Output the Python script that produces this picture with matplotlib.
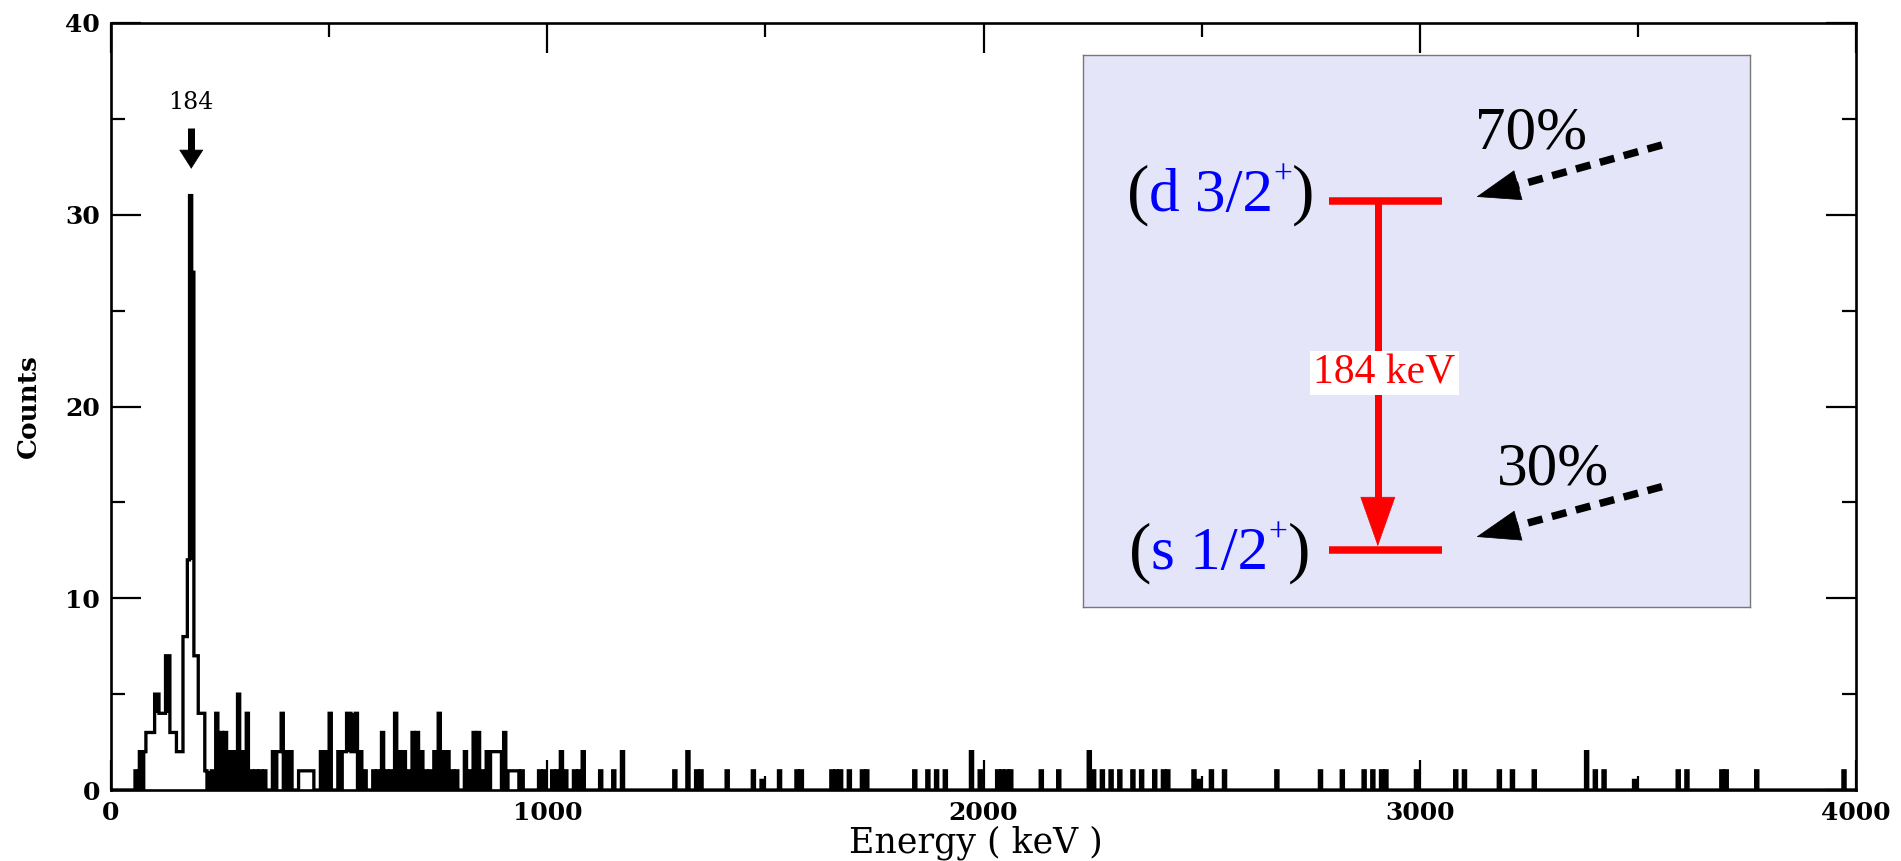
import numpy as np
import matplotlib
matplotlib.use("Agg")
import matplotlib.pyplot as plt
from matplotlib.patches import FancyArrowPatch
from matplotlib.ticker import MultipleLocator

# ---------------- spectrum data (5 keV channels) ----------------
BIN_WIDTH = 5
E_MAX = 4000

# lower channel edge (keV) and counts of the non-empty channels below 1.2 MeV
low_kev = [
    55, 65, 75, 80, 85, 90, 95, 100, 105, 110, 115, 120, 125, 130, 135, 140,
    145, 150, 155, 160, 165, 170, 175, 180, 185, 190, 195, 200, 205, 210, 215,
    230, 240, 250, 260, 270, 280, 290, 300, 310, 320, 330, 340, 350,
    370, 380, 385, 390, 400, 410,
    430, 435, 440, 445, 450, 455, 460,
    480, 490, 500,
    520, 530, 535, 540, 545, 550, 555, 560,
    570, 580,
    600, 610, 620, 630, 640, 650, 660, 670, 680, 690, 700, 710, 720, 730, 740,
    750, 760, 770, 780, 790,
    810, 820, 830, 840, 850, 860, 870, 875, 880, 885, 890, 900,
    910, 915, 920, 925, 930, 940,
    980, 990, 1010, 1020, 1030, 1040, 1060, 1070, 1080,
    1120, 1150, 1170,
]
low_counts = [
    1, 2, 2, 3, 3, 3, 3, 5, 5, 4, 4, 4, 7, 7, 3, 3,
    3, 2, 2, 2, 8, 8, 12, 31, 27, 7, 7, 4, 4, 4, 1,
    1, 4, 3, 3, 2, 2, 5, 2, 4, 1, 1, 1, 1,
    2, 2, 2, 4, 2, 2,
    1, 1, 1, 1, 1, 1, 1,
    2, 2, 4,
    2, 2, 2, 4, 4, 2, 2, 4,
    2, 1,
    1, 1, 3, 1, 1, 4, 2, 2, 1, 3, 3, 2, 1, 1, 2,
    4, 2, 2, 1, 1,
    2, 1, 3, 3, 1, 2, 2, 2, 2, 2, 2, 3,
    1, 1, 1, 1, 1, 1,
    1, 1, 1, 1, 2, 1, 1, 1, 2,
    1, 1, 2,
]

# the sparse part of the spectrum above 1.2 MeV
high_kev = [
    1290, 1320, 1340, 1350, 1410, 1470, 1490, 1530, 1570, 1580, 1650, 1660,
    1670, 1690, 1720, 1730, 1840, 1870, 1890, 1910, 1970, 1990, 2030, 2040,
    2050, 2060, 2130, 2170, 2240, 2250, 2270, 2290, 2310, 2340, 2360, 2390,
    2410, 2420, 2480, 2490, 2520, 2550, 2670, 2770, 2820, 2870, 2890, 2910,
    2920, 2990, 3080, 3100, 3180, 3210, 3260, 3380, 3400, 3420, 3490, 3590,
    3610, 3690, 3700, 3770, 3970,
]
high_counts = [
    1, 2, 1, 1, 1, 1, 0.5, 1, 1, 1, 1, 1,
    1, 1, 1, 1, 1, 1, 1, 1, 2, 1, 1, 1,
    1, 1, 1, 1, 2, 1, 1, 1, 1, 1, 1, 1,
    1, 1, 1, 0.5, 1, 1, 1, 1, 1, 1, 1, 1,
    1, 1, 1, 1, 1, 1, 1, 2, 1, 1, 0.5, 1,
    1, 1, 1, 1, 1,
]

peak_kev = 184
peak_text = "184"

x_ticks = [0, 1000, 2000, 3000, 4000]
y_ticks = [0, 10, 20, 30, 40]
x_label = "Energy ( keV )"
y_label = "Counts"

# ---------------- level scheme ----------------
upper_state = "d 3/2"
lower_state = "s 1/2"
parity = "+"
transition_text = "184 keV"
feeding_upper = "70%"
feeding_lower = "30%"

SERIF = "DejaVu Serif"
TIMES = "Liberation Serif"
PX = 0.72  # points per pixel at 100 dpi

fig = plt.figure(figsize=(19.01, 8.61), dpi=100)
fig.patch.set_facecolor("white")
ax = fig.add_axes([111 / 1901, 1 - 790 / 861, 1745 / 1901, 767 / 861])

edges = np.arange(0, E_MAX + BIN_WIDTH, BIN_WIDTH)
counts = np.zeros(len(edges) - 1)
for kev, cnt in ((low_kev, low_counts), (high_kev, high_counts)):
    counts[(np.array(kev) // BIN_WIDTH).astype(int)] = cnt

# columns at most two channels wide that stand above (or dip below) both
# neighbouring channels are closed in by their edges and print solid
padded = np.concatenate([[0.0], counts, [0.0]])
fill_x, fill_lo, fill_hi = [], [], []
for w in (1, 2):
    for i in range(len(counts) - w + 1):
        run = counts[i:i + w]
        outer_lo = min(padded[i], padded[i + w + 1])
        outer_hi = max(padded[i], padded[i + w + 1])
        for lo, hi in ((outer_hi, run.min()), (run.max(), outer_lo)):
            if hi > lo:
                for k in range(w):
                    fill_x.append(edges[i + k])
                    fill_lo.append(lo)
                    fill_hi.append(hi)
fill_lo = np.array(fill_lo)
fill_hi = np.array(fill_hi)
ax.bar(fill_x, fill_hi - fill_lo, bottom=fill_lo, width=BIN_WIDTH,
       align="edge", color="black", linewidth=0)
ax.stairs(counts, edges, baseline=0, color="black", linewidth=3.3 * PX,
          joinstyle="miter")

ax.set_xlim(0, E_MAX)
ax.set_ylim(0, 40)
ax.set_xticks(x_ticks)
ax.set_xticklabels([str(v) for v in x_ticks])
ax.set_yticks(y_ticks)
ax.set_yticklabels([str(v) for v in y_ticks])
ax.xaxis.set_minor_locator(MultipleLocator(500))
ax.yaxis.set_minor_locator(MultipleLocator(5))
ax.tick_params(which="both", direction="in", top=True, right=True,
               width=1.6, colors="black")
ax.tick_params(which="major", length=30 * PX, labelsize=18, pad=8)
ax.tick_params(which="minor", length=14 * PX)
for lab in ax.get_xticklabels() + ax.get_yticklabels():
    lab.set_family(SERIF)
    lab.set_fontweight("bold")
for sp in ax.spines.values():
    sp.set_linewidth(1.9)

ax.set_xlabel(x_label, family=SERIF, fontsize=25, va="center")
ax.set_ylabel(y_label, family=SERIF, fontsize=19, fontweight="bold",
              va="center")
ax.xaxis.set_label_coords(0.4957, -0.069)
ax.yaxis.set_label_coords(-0.0476, 0.5)


def solid_head(axes, base, tip, length_px, half_px, color, transform):
    head = FancyArrowPatch(
        base, tip, transform=transform,
        arrowstyle=f"-|>,head_length={length_px * PX / 10},head_width={half_px * PX / 10}",
        mutation_scale=10, color=color, linewidth=0.5, shrinkA=0, shrinkB=0)
    axes.add_patch(head)


def arrow_with_head(axes, start, tip, transform, color, lw_px, head_len_px,
                    head_half_px, dashes=None):
    p0 = transform.transform(start)
    p1 = transform.transform(tip)
    d = p0 - p1
    d = d / np.hypot(*d)
    base = transform.inverted().transform(p1 + d * head_len_px)
    kw = dict(color=color, linewidth=lw_px * PX, solid_capstyle="butt",
              dash_capstyle="butt", transform=transform)
    if dashes is not None:
        kw["linestyle"] = (0, dashes)
    axes.plot([start[0], base[0]], [start[1], base[1]], **kw)
    solid_head(axes, base, tip, head_len_px, head_half_px, color, transform)


# peak marker
arrow_with_head(ax, (peak_kev, 34.5), (peak_kev, 32.4), ax.transData,
                "black", 7, 18, 11.5)
ax.text(peak_kev, 35.85, peak_text, ha="center", va="center", family=SERIF,
        fontsize=17)

# ---------------- inset level scheme ----------------
ins = fig.add_axes([1083 / 1901, 1 - 607 / 861, 667 / 1901, 552 / 861])
ins.set_facecolor("#e5e5fa")
ins.set_xlim(0, 1)
ins.set_ylim(0, 1)
ins.set_xticks([])
ins.set_yticks([])
for sp in ins.spines.values():
    sp.set_color("#777777")
    sp.set_linewidth(1.0)

T = ins.transAxes
y_up, y_low = 0.735, 0.104
ins.plot([0.369, 0.538], [y_up, y_up], color="red", lw=7.5 * PX,
         solid_capstyle="butt", transform=T)
ins.plot([0.369, 0.538], [y_low, y_low], color="red", lw=7.5 * PX,
         solid_capstyle="butt", transform=T)
arrow_with_head(ins, (0.442, y_up), (0.442, y_low + 0.006), T, "red", 7, 48, 17)
ins.text(0.452, 0.424, transition_text, color="red", family=TIMES, fontsize=30,
         ha="center", va="center", transform=T,
         bbox=dict(facecolor="white", edgecolor="none", pad=2))


def level_label(axes, x0, y0, core, size):
    t1 = axes.text(x0, y0, "(", color="black", family=TIMES, fontsize=size * 1.1,
                   ha="left", va="baseline", transform=axes.transAxes)
    t2 = axes.annotate(core, xy=(1, y0), xycoords=(t1, "axes fraction"),
                       color="blue", family=TIMES, fontsize=size,
                       ha="left", va="baseline")
    t3 = axes.annotate(parity, xy=(1, y0 + 0.05), xycoords=(t2, "axes fraction"),
                       color="blue", family=TIMES, fontsize=size * 0.55,
                       ha="left", va="baseline")
    axes.annotate(")", xy=(1, y0), xycoords=(t3, "axes fraction"),
                  color="black", family=TIMES, fontsize=size * 1.1,
                  ha="left", va="baseline")


level_label(ins, 0.066, 0.717, upper_state, 44)
level_label(ins, 0.069, 0.068, lower_state, 44)

ins.text(0.672, 0.857, feeding_upper, family=TIMES, fontsize=44, ha="center",
         va="center", transform=T)
ins.text(0.704, 0.248, feeding_lower, family=TIMES, fontsize=44, ha="center",
         va="center", transform=T)
arrow_with_head(ins, (0.868, 0.837), (0.59, 0.743), T, "black", 7.5, 42, 15,
                dashes=(2.0, 1.3))
arrow_with_head(ins, (0.868, 0.218), (0.59, 0.127), T, "black", 7.5, 42, 15,
                dashes=(2.0, 1.3))

fig.savefig("out.png", dpi=100, facecolor="white")
